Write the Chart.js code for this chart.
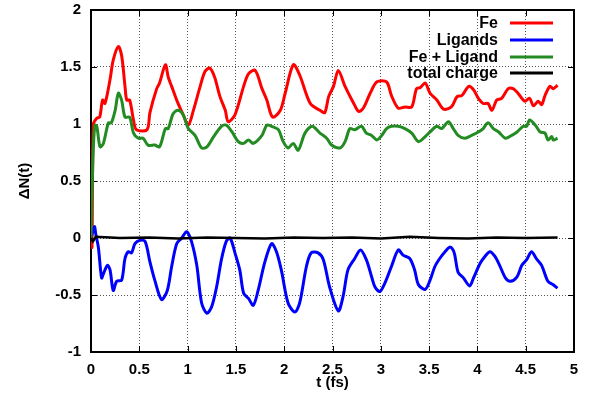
<!DOCTYPE html>
<html>
<head>
<meta charset="utf-8">
<script src="https://cdn.jsdelivr.net/npm/chart.js@4/dist/chart.umd.min.js"></script>
<style>
  html, body { margin: 0; padding: 0; background: #fff; }
  #c { display: block; }
</style>
</head>
<body>
<canvas id="c" width="589" height="404"></canvas>
<script>
// time axis (fs) and charge change per series
const feT = [0, 0.01, 0.025, 0.06, 0.09, 0.12, 0.145, 0.197, 0.23, 0.283, 0.317, 0.352, 0.37, 0.40, 0.44, 0.47, 0.58, 0.61, 0.68, 0.71, 0.77, 0.80, 0.835, 0.887, 0.955, 1.007, 1.06, 1.13, 1.18, 1.23, 1.28, 1.335, 1.39, 1.42, 1.49, 1.58, 1.63, 1.70, 1.77, 1.82, 1.88, 1.96, 2.01, 2.094, 2.16, 2.27, 2.37, 2.42, 2.46, 2.51, 2.56, 2.63, 2.72, 2.77, 2.82, 2.89, 2.96, 3.06, 3.11, 3.18, 3.25, 3.32, 3.37, 3.41, 3.46, 3.51, 3.58, 3.65, 3.73, 3.79, 3.84, 3.91, 3.96, 4.01, 4.06, 4.11, 4.15, 4.20, 4.25, 4.32, 4.37, 4.42, 4.49, 4.54, 4.58, 4.63, 4.665, 4.70, 4.75, 4.785, 4.83];
const feN = [0, -0.08, 1.0, 1.05, 1.06, 1.21, 1.18, 1.39, 1.56, 1.68, 1.60, 1.33, 1.21, 1.21, 1.035, 0.95, 0.95, 1.10, 1.31, 1.36, 1.52, 1.41, 1.33, 1.21, 1.08, 0.99, 1.12, 1.33, 1.46, 1.49, 1.41, 1.24, 1.12, 1.02, 1.08, 1.33, 1.44, 1.47, 1.31, 1.21, 1.06, 1.12, 1.27, 1.52, 1.43, 1.18, 1.12, 1.10, 1.24, 1.33, 1.47, 1.33, 1.18, 1.11, 1.14, 1.27, 1.37, 1.37, 1.25, 1.14, 1.15, 1.15, 1.31, 1.32, 1.36, 1.27, 1.21, 1.13, 1.15, 1.24, 1.25, 1.33, 1.30, 1.225, 1.18, 1.18, 1.12, 1.21, 1.225, 1.31, 1.31, 1.27, 1.20, 1.225, 1.16, 1.20, 1.17, 1.25, 1.33, 1.31, 1.34];

const ligT = [0, 0.035, 0.05, 0.076, 0.11, 0.13, 0.17, 0.197, 0.23, 0.266, 0.317, 0.352, 0.386, 0.42, 0.455, 0.507, 0.56, 0.61, 0.66, 0.73, 0.79, 0.835, 0.887, 0.94, 0.99, 1.04, 1.095, 1.145, 1.20, 1.25, 1.30, 1.35, 1.40, 1.44, 1.49, 1.54, 1.58, 1.63, 1.68, 1.73, 1.80, 1.87, 1.92, 1.97, 2.04, 2.11, 2.16, 2.23, 2.28, 2.35, 2.405, 2.47, 2.56, 2.61, 2.66, 2.73, 2.79, 2.85, 2.905, 2.94, 2.99, 3.04, 3.11, 3.18, 3.23, 3.30, 3.35, 3.39, 3.46, 3.51, 3.56, 3.61, 3.665, 3.72, 3.76, 3.80, 3.855, 3.92, 3.96, 4.03, 4.08, 4.13, 4.18, 4.23, 4.29, 4.34, 4.41, 4.46, 4.51, 4.56, 4.61, 4.665, 4.73, 4.785, 4.83];
const ligN = [0, 0.1, 0.03, -0.08, -0.35, -0.31, -0.24, -0.28, -0.46, -0.38, -0.37, -0.18, -0.12, -0.13, -0.05, -0.02, -0.03, -0.21, -0.37, -0.54, -0.46, -0.25, -0.05, 0, 0.055, -0.03, -0.24, -0.57, -0.66, -0.60, -0.43, -0.19, -0.03, 0, -0.13, -0.28, -0.485, -0.53, -0.59, -0.46, -0.21, -0.05, -0.12, -0.28, -0.57, -0.65, -0.57, -0.25, -0.13, -0.13, -0.19, -0.43, -0.64, -0.51, -0.28, -0.18, -0.105, -0.19, -0.34, -0.43, -0.47, -0.40, -0.25, -0.105, -0.15, -0.18, -0.28, -0.41, -0.45, -0.37, -0.25, -0.18, -0.12, -0.08, -0.13, -0.30, -0.35, -0.42, -0.35, -0.22, -0.16, -0.12, -0.16, -0.24, -0.35, -0.38, -0.34, -0.24, -0.19, -0.12, -0.18, -0.24, -0.38, -0.41, -0.44];

const sumT = [0, 0.02, 0.04, 0.06, 0.093, 0.128, 0.18, 0.21, 0.25, 0.283, 0.317, 0.352, 0.40, 0.44, 0.49, 0.54, 0.59, 0.66, 0.71, 0.77, 0.80, 0.85, 0.90, 0.955, 1.007, 1.077, 1.145, 1.20, 1.27, 1.35, 1.40, 1.46, 1.525, 1.58, 1.63, 1.68, 1.77, 1.82, 1.87, 1.94, 1.99, 2.04, 2.094, 2.145, 2.215, 2.29, 2.37, 2.44, 2.49, 2.58, 2.63, 2.68, 2.73, 2.80, 2.85, 2.905, 2.96, 3.01, 3.06, 3.11, 3.18, 3.25, 3.32, 3.39, 3.46, 3.51, 3.58, 3.63, 3.70, 3.75, 3.80, 3.87, 3.94, 4.01, 4.06, 4.11, 4.165, 4.22, 4.29, 4.355, 4.41, 4.475, 4.51, 4.54, 4.60, 4.65, 4.70, 4.73, 4.77, 4.785, 4.83];
const sumN = [0, 0.7, 0.99, 0.98, 0.80, 0.83, 1.01, 1.01, 1.12, 1.27, 1.21, 1.06, 1.06, 0.92, 0.875, 0.875, 0.815, 0.815, 0.80, 0.96, 0.96, 1.09, 1.12, 1.08, 0.96, 0.90, 0.79, 0.80, 0.89, 0.98, 0.99, 0.93, 0.845, 0.83, 0.86, 0.83, 0.90, 0.99, 0.98, 0.95, 0.845, 0.79, 0.83, 0.77, 0.92, 0.98, 0.92, 0.875, 0.815, 0.79, 0.845, 0.96, 0.95, 0.98, 0.92, 0.90, 0.86, 0.90, 0.96, 0.98, 0.98, 0.96, 0.92, 0.845, 0.89, 0.93, 0.98, 0.96, 1.02, 0.96, 0.90, 0.875, 0.90, 0.93, 0.96, 1.01, 0.96, 0.93, 0.875, 0.90, 0.93, 0.98, 0.98, 1.035, 0.99, 0.93, 0.92, 0.86, 0.89, 0.86, 0.875];

const totT = [0, 0.02, 0.05, 0.3, 0.6, 0.9, 1.2, 1.5, 1.8, 2.1, 2.4, 2.7, 3.0, 3.3, 3.6, 3.9, 4.2, 4.5, 4.83];
const totN = [0, -0.03, 0.01, 0, 0.005, -0.005, 0.005, 0, -0.005, 0.005, 0, 0.005, -0.005, 0.01, 0, -0.005, 0.005, 0, 0.005];

const xTicks = [0, 0.5, 1, 1.5, 2, 2.5, 3, 3.5, 4, 4.5, 5];
const yTicks = [-1, -0.5, 0, 0.5, 1, 1.5, 2];
const seriesNames = ['Fe', 'Ligands', 'Fe + Ligand', 'total charge'];
const seriesColors = ['#ff0000', '#0000ff', '#228b22', '#000000'];

const FONT = "'Liberation Sans', Arial, Helvetica, sans-serif";

function pts(ts, vs) {
    const n = Math.min(ts.length, vs.length);
    const out = [];
    for (let i = 0; i < n; i++) out.push({ x: ts[i], y: vs[i] });
    return out;
}

// gnuplot-style frame with inward tick marks on all four sides
const framePlugin = {
    id: 'frame',
    beforeDatasetsDraw(chart) {
        const { ctx, chartArea: a, scales } = chart;
        ctx.save();
        ctx.strokeStyle = '#000';
        ctx.lineWidth = 1;
        ctx.beginPath();
        xTicks.forEach(v => {
            const px = Math.round(scales.x.getPixelForValue(v)) + 0.5;
            ctx.moveTo(px, a.bottom); ctx.lineTo(px, a.bottom - 6);
            ctx.moveTo(px, a.top); ctx.lineTo(px, a.top + 6);
        });
        yTicks.forEach(v => {
            const py = Math.round(scales.y.getPixelForValue(v)) + 0.5;
            ctx.moveTo(a.left, py); ctx.lineTo(a.left + 6, py);
            ctx.moveTo(a.right, py); ctx.lineTo(a.right - 6, py);
        });
        ctx.stroke();
        ctx.lineWidth = 2;
        ctx.strokeRect(a.left, a.top, a.right - a.left, a.bottom - a.top);
        ctx.restore();
    }
};

// key in the top right corner: text right-aligned, sample line after it
const keyPlugin = {
    id: 'key',
    afterDatasetsDraw(chart) {
        const { ctx } = chart;
        const textRight = 498, lineX0 = 510, lineX1 = 553;
        const rows = [23, 40, 57, 73];
        ctx.save();
        ctx.font = 'bold 16px ' + FONT;
        ctx.textAlign = 'right';
        ctx.textBaseline = 'middle';
        chart.data.datasets.forEach((ds, i) => {
            const y = rows[i];
            ctx.fillStyle = '#000';
            ctx.fillText(ds.label, textRight, y + 1);
            ctx.strokeStyle = ds.borderColor;
            ctx.lineWidth = 3;
            ctx.beginPath();
            ctx.moveTo(lineX0, y);
            ctx.lineTo(lineX1, y);
            ctx.stroke();
        });
        ctx.restore();
    }
};

const datasets = [
    { data: pts(feT, feN), order: 4 },
    { data: pts(ligT, ligN), order: 3 },
    { data: pts(sumT, sumN), order: 2 },
    { data: pts(totT, totN), order: 1, tension: 0, borderWidth: 2.5 }
].map((d, i) => Object.assign({
    label: seriesNames[i],
    borderColor: seriesColors[i],
    backgroundColor: seriesColors[i],
    borderWidth: 3,
    pointRadius: 0,
    tension: 0.3,
    fill: false
}, d));

const tickFont = { family: FONT, size: 15, weight: 'bold' };

new Chart(document.getElementById('c'), {
    type: 'line',
    data: { datasets },
    options: {
        responsive: false,
        animation: false,
        events: [],
        layout: { padding: { left: 0, top: 10, right: 15, bottom: 0 } },
        plugins: { legend: { display: false }, tooltip: { enabled: false } },
        scales: {
            x: {
                type: 'linear',
                min: 0, max: 5,
                afterBuildTicks: s => { s.ticks = xTicks.map(v => ({ value: v })); },
                afterFit: s => { s.height = 52; s.paddingLeft = 0; s.paddingRight = 0; },
                ticks: {
                    color: '#000', padding: 9, maxRotation: 0,
                    font: tickFont,
                    callback: v => String(v)
                },
                grid: { color: '#555', lineWidth: 1, drawTicks: false },
                border: { display: false, dash: [1, 2] },
                title: {
                    display: true, text: 't (fs)', color: '#000',
                    font: tickFont,
                    padding: { top: 0, bottom: 12 }
                }
            },
            y: {
                type: 'linear',
                min: -1, max: 2,
                afterBuildTicks: s => { s.ticks = yTicks.map(v => ({ value: v })); },
                afterFit: s => { s.width = 91; s.paddingTop = 0; s.paddingBottom = 0; },
                ticks: {
                    color: '#000', padding: 10,
                    font: tickFont,
                    callback: v => String(v)
                },
                grid: { color: '#555', lineWidth: 1, drawTicks: false },
                border: { display: false, dash: [1, 2] },
                title: {
                    display: true, text: 'ΔN(t)', color: '#000',
                    font: tickFont,
                    padding: { top: 16, bottom: 0 }
                }
            }
        }
    },
    plugins: [framePlugin, keyPlugin]
});
</script>
</body>
</html>
